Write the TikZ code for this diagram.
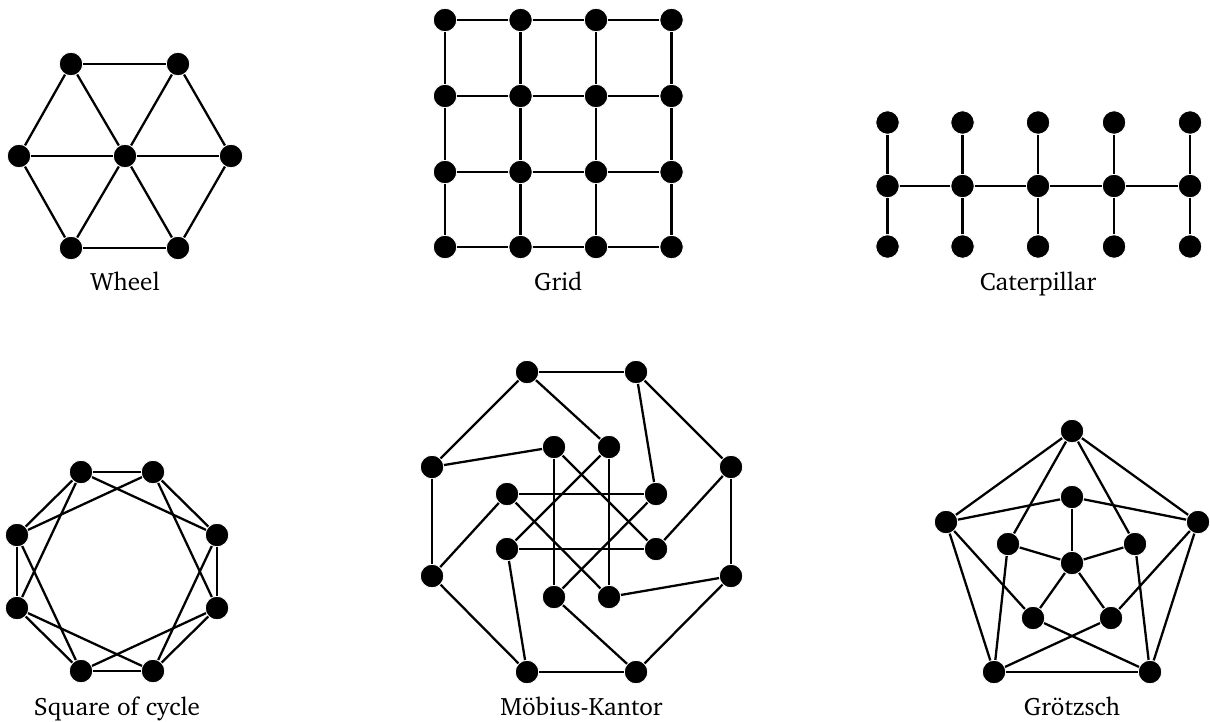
\documentclass[tikz,border=0pt]{standalone}
\usepackage[T1]{fontenc}
\usepackage{charter}
\begin{document}
\begin{tikzpicture}
[nodedecorate/.style={shape=circle,inner sep=0pt,minimum size=0.47cm,fill=black,draw=white,line width=0.5pt},%
  linedecorate/.style={-,line width=1.3pt},%
  namedecorate/.style={anchor=base,inner sep=0pt,font=\fontsize{14.3}{17}\selectfont}]
\useasboundingbox (0,0) rectangle (24.2,14.42);
%%% wheel graph W_7
% nodes or vertices
\node (a) at (2.5,11.3) [nodedecorate] {};
\node (b) at (1.42,13.14) [nodedecorate] {};
\node (c) at (3.56,13.14) [nodedecorate] {};
\node (d) at (4.62,11.3) [nodedecorate] {};
\node (e) at (3.56,9.46) [nodedecorate] {};
\node (f) at (1.42,9.46) [nodedecorate] {};
\node (g) at (0.38,11.3) [nodedecorate] {};
\node (wheel) at (2.5,8.62) [namedecorate] {Wheel};
% edges or lines
\path
(a) edge[linedecorate] (b)
(a) edge[linedecorate] (c)
(a) edge[linedecorate] (d)
(a) edge[linedecorate] (e)
(a) edge[linedecorate] (f)
(a) edge[linedecorate] (g)
(b) edge[linedecorate] (c)
(c) edge[linedecorate] (d)
(d) edge[linedecorate] (e)
(e) edge[linedecorate] (f)
(f) edge[linedecorate] (g)
(g) edge[linedecorate] (b);
%
%%% grid graph 4x4
% nodes or vertices
\node (a) at (8.9,14.02) [nodedecorate] {};
\node (b) at (10.41,14.02) [nodedecorate] {};
\node (c) at (11.92,14.02) [nodedecorate] {};
\node (d) at (13.43,14.02) [nodedecorate] {};
\node (e) at (8.9,12.5) [nodedecorate] {};
\node (f) at (10.41,12.5) [nodedecorate] {};
\node (g) at (11.92,12.5) [nodedecorate] {};
\node (h) at (13.43,12.5) [nodedecorate] {};
\node (i) at (8.9,10.98) [nodedecorate] {};
\node (j) at (10.41,10.98) [nodedecorate] {};
\node (k) at (11.92,10.98) [nodedecorate] {};
\node (l) at (13.43,10.98) [nodedecorate] {};
\node (m) at (8.9,9.48) [nodedecorate] {};
\node (n) at (10.41,9.48) [nodedecorate] {};
\node (o) at (11.92,9.48) [nodedecorate] {};
\node (p) at (13.43,9.48) [nodedecorate] {};
\node (grid) at (11.165,8.62) [namedecorate] {Grid};
% edges or lines
\path
(a) edge[linedecorate] (b)
(b) edge[linedecorate] (c)
(c) edge[linedecorate] (d)
(e) edge[linedecorate] (f)
(f) edge[linedecorate] (g)
(g) edge[linedecorate] (h)
(i) edge[linedecorate] (j)
(j) edge[linedecorate] (k)
(k) edge[linedecorate] (l)
(m) edge[linedecorate] (n)
(n) edge[linedecorate] (o)
(o) edge[linedecorate] (p)
(a) edge[linedecorate] (e)
(e) edge[linedecorate] (i)
(i) edge[linedecorate] (m)
(b) edge[linedecorate] (f)
(f) edge[linedecorate] (j)
(j) edge[linedecorate] (n)
(c) edge[linedecorate] (g)
(g) edge[linedecorate] (k)
(k) edge[linedecorate] (o)
(d) edge[linedecorate] (h)
(h) edge[linedecorate] (l)
(l) edge[linedecorate] (p);
%
%%% caterpillar
% nodes or vertices
\node (a) at (17.75,10.7) [nodedecorate] {};
\node (b) at (19.25,10.7) [nodedecorate] {};
\node (c) at (20.76,10.7) [nodedecorate] {};
\node (d) at (22.28,10.7) [nodedecorate] {};
\node (e) at (23.8,10.7) [nodedecorate] {};
\node (f) at (17.75,11.97) [nodedecorate] {};
\node (g) at (19.25,11.97) [nodedecorate] {};
\node (h) at (20.76,11.97) [nodedecorate] {};
\node (i) at (22.28,11.97) [nodedecorate] {};
\node (j) at (23.8,11.97) [nodedecorate] {};
\node (k) at (17.75,9.49) [nodedecorate] {};
\node (l) at (19.25,9.49) [nodedecorate] {};
\node (m) at (20.76,9.49) [nodedecorate] {};
\node (n) at (22.28,9.49) [nodedecorate] {};
\node (o) at (23.8,9.49) [nodedecorate] {};
\node (caterpillar) at (20.76,8.62) [namedecorate] {Caterpillar};
% edges or lines
\path
(a) edge[linedecorate] (b)
(b) edge[linedecorate] (c)
(c) edge[linedecorate] (d)
(d) edge[linedecorate] (e)
(a) edge[linedecorate] (f)
(b) edge[linedecorate] (g)
(c) edge[linedecorate] (h)
(d) edge[linedecorate] (i)
(e) edge[linedecorate] (j)
(a) edge[linedecorate] (k)
(b) edge[linedecorate] (l)
(c) edge[linedecorate] (m)
(d) edge[linedecorate] (n)
(e) edge[linedecorate] (o);
%
%%% square of the cycle C_8
% nodes or vertices
\node (a) at (1.62,4.98) [nodedecorate] {};
\node (b) at (3.06,4.98) [nodedecorate] {};
\node (c) at (4.34,3.72) [nodedecorate] {};
\node (d) at (4.34,2.26) [nodedecorate] {};
\node (e) at (3.06,1.0) [nodedecorate] {};
\node (f) at (1.62,1.0) [nodedecorate] {};
\node (g) at (0.34,2.26) [nodedecorate] {};
\node (h) at (0.34,3.72) [nodedecorate] {};
\node (square) at (2.34,0.12) [namedecorate] {Square of cycle};
% edges or lines
\path
(a) edge[linedecorate] (b)
(b) edge[linedecorate] (c)
(c) edge[linedecorate] (d)
(d) edge[linedecorate] (e)
(e) edge[linedecorate] (f)
(f) edge[linedecorate] (g)
(g) edge[linedecorate] (h)
(h) edge[linedecorate] (a)
(a) edge[linedecorate] (c)
(b) edge[linedecorate] (d)
(c) edge[linedecorate] (e)
(d) edge[linedecorate] (f)
(e) edge[linedecorate] (g)
(f) edge[linedecorate] (h)
(g) edge[linedecorate] (a)
(h) edge[linedecorate] (b);
%
%%% Moebius-Kantor graph
% nodes or vertices
\node (a) at (10.54,6.98) [nodedecorate] {};
\node (b) at (12.72,6.98) [nodedecorate] {};
\node (c) at (14.62,5.08) [nodedecorate] {};
\node (d) at (14.62,2.9) [nodedecorate] {};
\node (e) at (12.72,0.98) [nodedecorate] {};
\node (f) at (10.54,0.98) [nodedecorate] {};
\node (g) at (8.64,2.9) [nodedecorate] {};
\node (h) at (8.64,5.08) [nodedecorate] {};
\node (i) at (11.08,5.48) [nodedecorate] {};
\node (j) at (12.18,5.48) [nodedecorate] {};
\node (k) at (13.12,4.54) [nodedecorate] {};
\node (l) at (13.12,3.44) [nodedecorate] {};
\node (m) at (12.18,2.48) [nodedecorate] {};
\node (n) at (11.08,2.48) [nodedecorate] {};
\node (o) at (10.14,3.44) [nodedecorate] {};
\node (p) at (10.14,4.54) [nodedecorate] {};
\node (moebius) at (11.63,0.12) [namedecorate] {Möbius-Kantor};
% edges or lines
\path
(a) edge[linedecorate] (b)
(b) edge[linedecorate] (c)
(c) edge[linedecorate] (d)
(d) edge[linedecorate] (e)
(e) edge[linedecorate] (f)
(f) edge[linedecorate] (g)
(g) edge[linedecorate] (h)
(h) edge[linedecorate] (a)
(a) edge[linedecorate] (j)
(b) edge[linedecorate] (k)
(c) edge[linedecorate] (l)
(d) edge[linedecorate] (m)
(e) edge[linedecorate] (n)
(f) edge[linedecorate] (o)
(g) edge[linedecorate] (p)
(h) edge[linedecorate] (i)
(i) edge[linedecorate] (n)
(j) edge[linedecorate] (m)
(p) edge[linedecorate] (k)
(o) edge[linedecorate] (l)
(i) edge[linedecorate] (l)
(j) edge[linedecorate] (o)
(p) edge[linedecorate] (m)
(k) edge[linedecorate] (n);
%
%%% Groetzsch graph
% nodes or vertices
\node (a) at (21.44,5.8) [nodedecorate] {};
\node (b) at (23.96,3.98) [nodedecorate] {};
\node (c) at (23.0,0.98) [nodedecorate] {};
\node (d) at (19.88,0.98) [nodedecorate] {};
\node (e) at (18.92,3.98) [nodedecorate] {};
\node (f) at (21.44,4.48) [nodedecorate] {};
\node (g) at (22.7,3.54) [nodedecorate] {};
\node (h) at (22.22,2.06) [nodedecorate] {};
\node (i) at (20.66,2.06) [nodedecorate] {};
\node (j) at (20.16,3.54) [nodedecorate] {};
\node (k) at (21.44,3.16) [nodedecorate] {};
\node (groetzsch) at (21.44,0.12) [namedecorate] {Grötzsch};
% edges or lines
\path
(a) edge[linedecorate] (b)
(b) edge[linedecorate] (c)
(c) edge[linedecorate] (d)
(d) edge[linedecorate] (e)
(e) edge[linedecorate] (a)
(k) edge[linedecorate] (f)
(k) edge[linedecorate] (g)
(k) edge[linedecorate] (h)
(k) edge[linedecorate] (i)
(k) edge[linedecorate] (j)
(f) edge[linedecorate] (e)
(f) edge[linedecorate] (b)
(g) edge[linedecorate] (a)
(g) edge[linedecorate] (c)
(h) edge[linedecorate] (b)
(h) edge[linedecorate] (d)
(i) edge[linedecorate] (e)
(i) edge[linedecorate] (c)
(j) edge[linedecorate] (a)
(j) edge[linedecorate] (d);
\end{tikzpicture}
\end{document}
